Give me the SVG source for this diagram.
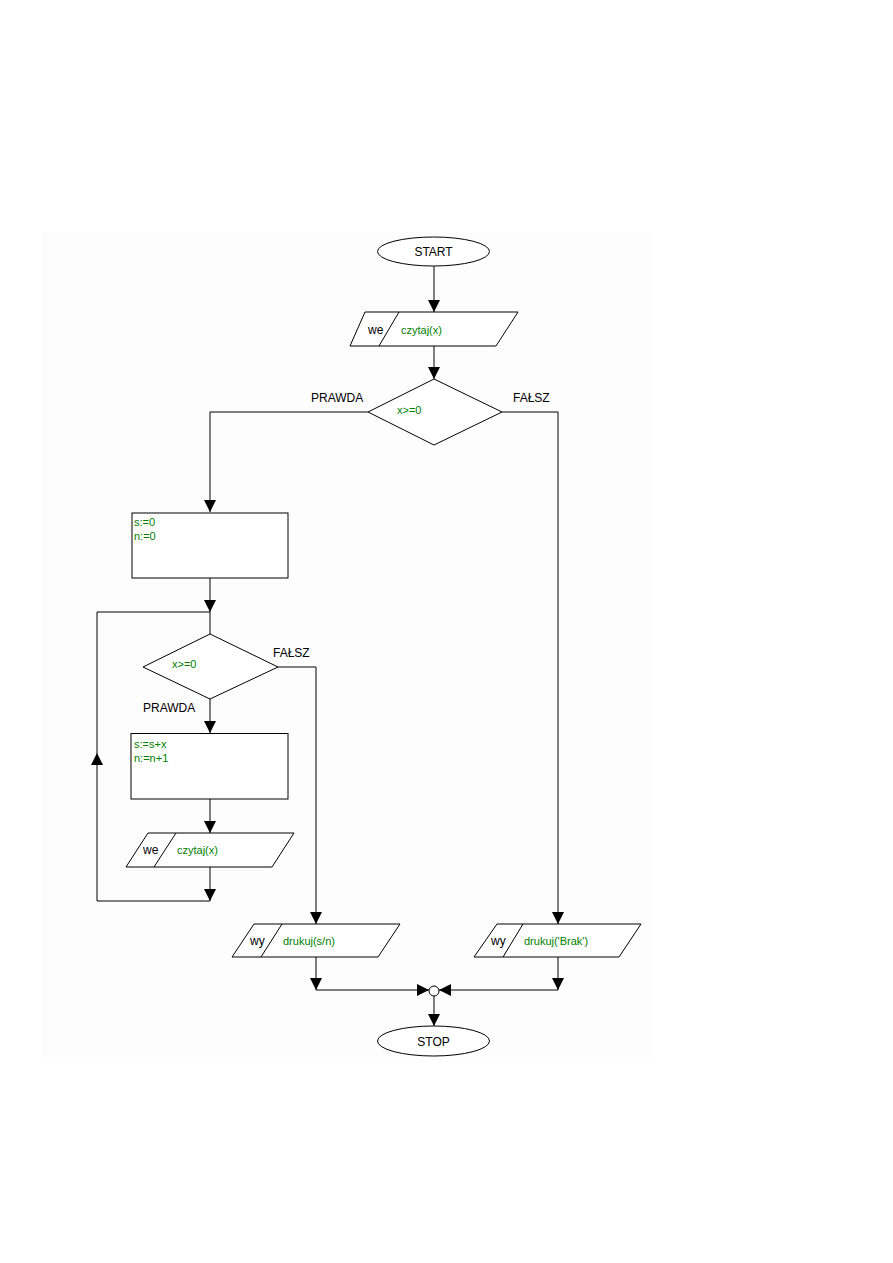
<svg xmlns="http://www.w3.org/2000/svg" width="893" height="1263" viewBox="0 0 893 1263">
<style>
.s{fill:#fff;stroke:#000;stroke-width:1}
.c{fill:none;stroke:#000;stroke-width:1}
.l{font-family:"Liberation Sans",Arial,sans-serif;font-size:12px;fill:#000}
.g{font-family:"Liberation Sans",Arial,sans-serif;font-size:11px;fill:#008000}
</style>
<defs>
<marker id="ah" viewBox="0 0 12 12" refX="12" refY="6" markerWidth="12" markerHeight="12" markerUnits="userSpaceOnUse" orient="auto">
<path d="M0,0 L12,6 L0,12 z" fill="#000"/>
</marker>
</defs>
<rect x="0" y="0" width="893" height="1263" fill="#fff"/>
<rect x="42" y="232" width="610" height="826" fill="#fdfdfd"/>
<g id="connectors" class="c">
<path d="M434,266 V312" marker-end="url(#ah)"/>
<path d="M434,346 V379" marker-end="url(#ah)"/>
<path d="M368,412 H210 V512" marker-end="url(#ah)"/>
<path d="M502,412 H558 V924" marker-end="url(#ah)"/>
<path d="M210,578 V612" marker-end="url(#ah)"/>
<path d="M210,612 V634"/>
<path d="M210,699 V733" marker-end="url(#ah)"/>
<path d="M210,799 V833" marker-end="url(#ah)"/>
<path d="M210,867 V901" marker-end="url(#ah)"/>
<path d="M210,901 H97 V753" marker-end="url(#ah)"/>
<path d="M97,753 V612 H210"/>
<path d="M278,667 H316 V924" marker-end="url(#ah)"/>
<path d="M316,957 V990" marker-end="url(#ah)"/>
<path d="M316,990 H429" marker-end="url(#ah)"/>
<path d="M558,957 V990" marker-end="url(#ah)"/>
<path d="M558,990 H439" marker-end="url(#ah)"/>
<path d="M434,996 V1026" marker-end="url(#ah)"/>
</g>
<g id="start">
<ellipse class="s" cx="433.5" cy="251.5" rx="56" ry="14.5"/>
<text class="l" x="433.5" y="256" text-anchor="middle">START</text>
</g>
<g id="input1">
<polygon class="s" points="365,312 518,312 496,346 350,346"/>
<line class="c" x1="399" y1="312" x2="379" y2="346"/>
<text class="l" x="368" y="334">we</text>
<text class="g" x="401" y="334">czytaj(x)</text>
</g>
<g id="decision1">
<polygon class="s" points="434,379 502,412 434,445 368,412"/>
<text class="g" x="397" y="414">x&gt;=0</text>
<text class="l" x="311" y="402">PRAWDA</text>
<text class="l" x="513" y="402">FAŁSZ</text>
</g>
<g id="init">
<rect class="s" x="132" y="513" width="156" height="65"/>
<text class="g" x="134" y="526">s:=0</text>
<text class="g" x="134" y="540">n:=0</text>
</g>
<g id="decision2">
<polygon class="s" points="210,634 278,667 210,699 143,667"/>
<text class="g" x="172" y="668">x&gt;=0</text>
<text class="l" x="143" y="712">PRAWDA</text>
<text class="l" x="273" y="657">FAŁSZ</text>
</g>
<g id="update">
<rect class="s" x="131" y="733.5" width="157" height="65.5"/>
<text class="g" x="134" y="748">s:=s+x</text>
<text class="g" x="134" y="762">n:=n+1</text>
</g>
<g id="input2">
<polygon class="s" points="148,833 294,833 272,867 126,867"/>
<line class="c" x1="176" y1="833" x2="154" y2="867"/>
<text class="l" x="143" y="854">we</text>
<text class="g" x="177" y="854">czytaj(x)</text>
</g>
<g id="output1">
<polygon class="s" points="254,924 400,924 378,957 232,957"/>
<line class="c" x1="282" y1="924" x2="261" y2="957"/>
<text class="l" x="250" y="945">wy</text>
<text class="g" x="283" y="945">drukuj(s/n)</text>
</g>
<g id="output2">
<polygon class="s" points="497,924 641,924 619,957 474,957"/>
<line class="c" x1="523" y1="924" x2="503" y2="957"/>
<text class="l" x="491" y="945">wy</text>
<text class="g" x="524" y="945">drukuj('Brak')</text>
</g>
<g id="merge">
<circle class="s" cx="434" cy="991" r="5"/>
</g>
<g id="stop">
<ellipse class="s" cx="433.5" cy="1041" rx="56" ry="15"/>
<text class="l" x="433.5" y="1045.5" text-anchor="middle">STOP</text>
</g>
</svg>
